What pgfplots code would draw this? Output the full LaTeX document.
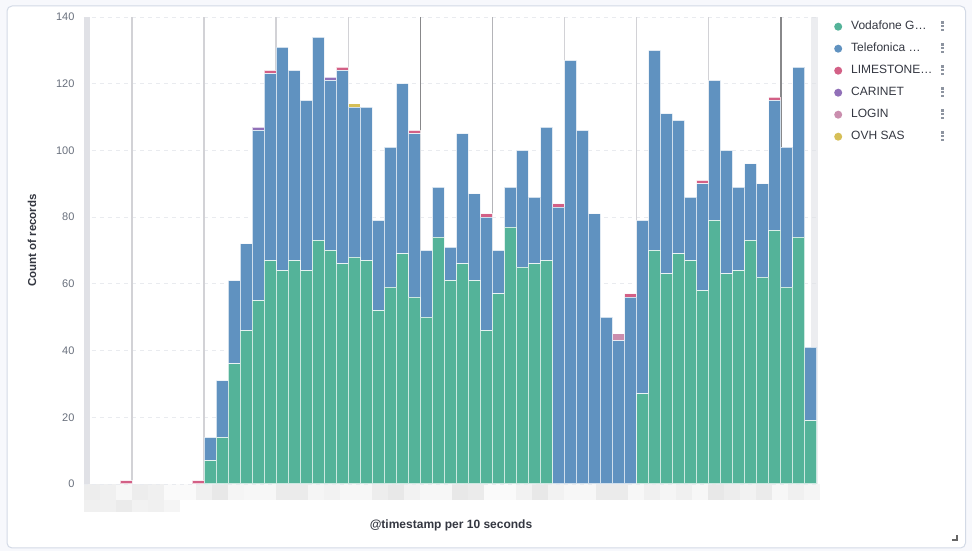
\documentclass[border=0pt]{standalone}
\usepackage{pgfplots}
\pgfplotsset{compat=1.18}
\usepackage{pgfplotstable}
\usepackage{fontspec}
\setmainfont{Liberation Sans}

\definecolor{vgreen}{HTML}{54B399}
\definecolor{tblue}{HTML}{6092C0}
\definecolor{lred}{HTML}{D36086}
\definecolor{cpurple}{HTML}{9170B8}
\definecolor{lpink}{HTML}{CA8EAE}
\definecolor{oyellow}{HTML}{D6BF57}
\definecolor{ticktext}{HTML}{69707D}
\definecolor{darktext}{HTML}{343741}
\definecolor{gridc}{HTML}{E9EBEF}
\definecolor{bandc}{HTML}{E0E1E6}
\definecolor{panelb}{HTML}{D3DAE6}
\definecolor{outbg}{HTML}{F7F8FC}
\definecolor{kgray}{HTML}{8D94A0}
\definecolor{mlight}{HTML}{D2D2D6}
\definecolor{mmid}{HTML}{B4B4B8}
\definecolor{mdark}{HTML}{88888A}

\newcommand\kebab{\raisebox{-1.5pt}{\color{kgray}\vbox{\hrule width 3pt height 2.4pt\kern1.3pt\hrule width 3pt height 2.4pt\kern1.3pt\hrule width 3pt height 2.4pt}}}

% x g b r p l o : one row per 10 s bucket
\pgfplotstableread{
x  g  b  r p l o
0  0  0  0 0 0 0
1  0  0  0 0 0 0
2  0  0  0 0 0 0
3  0  0  1 0 0 0
4  0  0  0 0 0 0
5  0  0  0 0 0 0
6  0  0  0 0 0 0
7  0  0  0 0 0 0
8  0  0  0 0 0 0
9  0  0  1 0 0 0
10 7  7  0 0 0 0
11 14 17 0 0 0 0
12 36 25 0 0 0 0
13 46 26 0 0 0 0
14 55 51 0 1 0 0
15 67 56 1 0 0 0
16 64 67 0 0 0 0
17 67 57 0 0 0 0
18 64 51 0 0 0 0
19 73 61 0 0 0 0
20 70 51 0 1 0 0
21 66 58 1 0 0 0
22 68 45 0 0 0 1
23 67 46 0 0 0 0
24 52 27 0 0 0 0
25 59 42 0 0 0 0
26 69 51 0 0 0 0
27 56 49 1 0 0 0
28 50 20 0 0 0 0
29 74 15 0 0 0 0
30 61 10 0 0 0 0
31 66 39 0 0 0 0
32 61 26 0 0 0 0
33 46 34 1 0 0 0
34 57 13 0 0 0 0
35 77 12 0 0 0 0
36 65 35 0 0 0 0
37 66 20 0 0 0 0
38 67 40 0 0 0 0
39 0  83 1 0 0 0
40 0  127 0 0 0 0
41 0  106 0 0 0 0
42 0  81 0 0 0 0
43 0  50 0 0 0 0
44 0  43 0 0 2 0
45 0  56 1 0 0 0
46 27 52 0 0 0 0
47 70 60 0 0 0 0
48 63 48 0 0 0 0
49 69 40 0 0 0 0
50 67 19 0 0 0 0
51 58 32 1 0 0 0
52 79 42 0 0 0 0
53 63 37 0 0 0 0
54 64 25 0 0 0 0
55 73 23 0 0 0 0
56 62 28 0 0 0 0
57 76 39 1 0 0 0
58 59 42 0 0 0 0
59 74 51 0 0 0 0
60 19 22 0 0 0 0
}\recs

\begin{document}
\begin{tikzpicture}
% page and panel
\fill[outbg] (0pt,0pt) rectangle (972pt,551pt);
\draw[panelb, fill=white, line width=1pt, rounded corners=5pt] (7pt,3pt) rectangle (965.5pt,545pt);

% blurred tick-label placeholders under the axis
\foreach \g [count=\i from 0] in {7,6,3,7,6,2,2,6,9,4,3,3,8,8,4,5,3,3,7,9,5,3,3,9,8,2,2,5,9,5,3,3,8,8,3,6,4,6,3,9,7,5,8,3,6,4} {
  \fill[black!\g] (84pt+16pt*\i,51pt) rectangle ++(16pt,16pt);
}
\foreach \g [count=\i from 0] in {6,6,8,5,6,4} {
  \fill[black!\g] (84pt+16pt*\i,39pt) rectangle ++(16pt,12pt);
}

\begin{axis}[
  at={(84pt,67pt)}, anchor=south west,
  width=734pt, height=467pt, scale only axis,
  ybar stacked, bar width=1,
  xmin=-0.5, xmax=60.6, ymin=0, ymax=140,
  xtick=\empty, ytick={0,20,...,140},
  axis line style={draw=none},
  major tick length=0pt,
  ymajorgrids, major grid style={gridc, dash pattern=on 4pt off 4pt, line width=0.8pt},
  /pgf/number format/assume math mode=true,
  tick label style={font=\fontsize{11pt}{13pt}\selectfont, text=ticktext},
  yticklabel style={xshift=-6pt},
  xlabel={@timestamp per 10 seconds},
  ylabel={Count of records},
  label style={font=\fontsize{11.5pt}{14pt}\selectfont\bfseries, text=darktext},
  xlabel style={at={(axis description cs:0.5,0)}, anchor=center, yshift=-41pt, font=\fontsize{12pt}{14pt}\selectfont\bfseries},
  ylabel style={at={(axis description cs:0,0.5)}, anchor=center, yshift=52pt, xshift=10pt},
  every axis plot/.append style={draw=white, draw opacity=0.7, line width=1pt},
  legend image code/.code={\fill[#1, draw=none] (0pt,0pt) circle (4pt);},
  legend style={at={(1,1)}, anchor=north west, xshift=16pt, yshift=-3.5pt,
    draw=none, fill=none, inner sep=0pt, row sep=10pt,
    font=\fontsize{12pt}{14pt}\selectfont, text=darktext,
    nodes={inner sep=0pt, text height=9pt, text depth=3pt}},
  legend cell align=left,
]
\addplot[fill=vgreen] table[x=x, y=g] {\recs};
\addplot[fill=tblue] table[x=x, y=b] {\recs};
\addplot[fill=lred] table[x=x, y=r] {\recs};
\addplot[fill=cpurple] table[x=x, y=p] {\recs};
\addplot[fill=lpink] table[x=x, y=l] {\recs};
\addplot[fill=oyellow] table[x=x, y=o] {\recs};
\legend{
  \hspace{9pt}\makebox[90pt][l]{Vodafone G…}\kebab,
  \hspace{9pt}\makebox[90pt][l]{Telefonica …}\kebab,
  \hspace{9pt}\makebox[90pt][l]{LIMESTONE…}\kebab,
  \hspace{9pt}\makebox[90pt][l]{CARINET}\kebab,
  \hspace{9pt}\makebox[90pt][l]{LOGIN}\kebab,
  \hspace{9pt}\makebox[90pt][l]{OVH SAS}\kebab}

% out-of-range bands
\fill[bandc] (axis cs:-0.5,0) rectangle (axis cs:0,140);
\fill[bandc, opacity=0.6] (axis cs:60.05,0) rectangle (axis cs:60.6,140);

% time markers
\draw[mlight, line width=1.5pt] (axis cs:3.5,0) -- (axis cs:3.5,140);
\draw[mlight, line width=1.5pt] (axis cs:9.5,0) -- (axis cs:9.5,140);
\draw[mlight, line width=1.5pt] (axis cs:15.5,0) -- (axis cs:15.5,140);
\draw[mlight, line width=1.5pt] (axis cs:21.5,0) -- (axis cs:21.5,140);
\draw[mdark, line width=1.5pt] (axis cs:27.5,0) -- (axis cs:27.5,140);
\draw[mmid, line width=1.5pt] (axis cs:33.5,0) -- (axis cs:33.5,140);
\draw[mlight, line width=1.5pt] (axis cs:39.5,0) -- (axis cs:39.5,140);
\draw[mlight, line width=1.5pt] (axis cs:45.5,0) -- (axis cs:45.5,140);
\draw[mlight, line width=1.5pt] (axis cs:51.5,0) -- (axis cs:51.5,140);
\draw[mdark, line width=1.5pt] (axis cs:57.5,0) -- (axis cs:57.5,140);
\end{axis}

% resize corner
\draw[black!60, line width=1.4pt] (957pt,15.5pt) -- (957pt,11pt) -- (951.5pt,11pt);
\end{tikzpicture}
\end{document}
